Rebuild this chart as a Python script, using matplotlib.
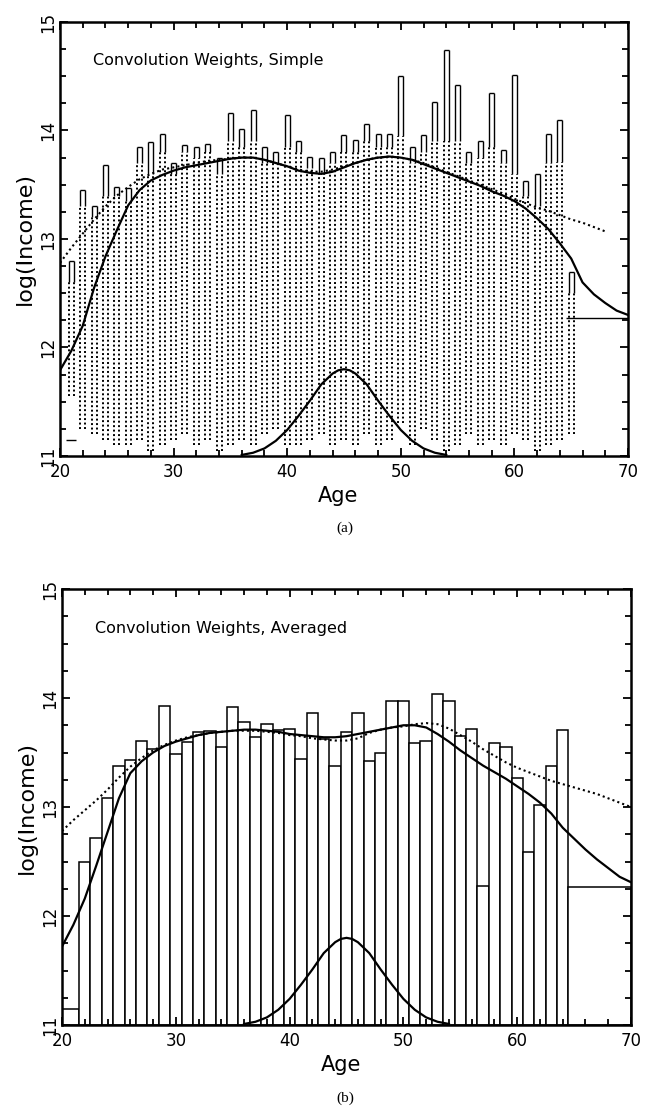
import numpy as np
import matplotlib
matplotlib.use("Agg")
import matplotlib.pyplot as plt
from matplotlib.ticker import MultipleLocator

plt.rcParams['font.family'] = ['DejaVu Sans']

# ---- data ----
# panel (a): raw observations per age (column top, second value, column bottom)
col_age = np.arange(21, 66)
col_top = [12.80, 13.45, 13.30, 13.68, 13.48, 13.47, 13.85, 13.89, 13.97, 13.70,
           13.87, 13.85, 13.88, 13.75, 14.16, 14.01, 14.19, 13.85, 13.80, 14.14,
           13.90, 13.76, 13.75, 13.80, 13.96, 13.91, 14.06, 13.97, 13.97, 14.50,
           13.85, 13.96, 14.26, 14.74, 14.42, 13.80, 13.90, 14.35, 13.82, 14.51,
           13.53, 13.60, 13.97, 14.10, 12.70]
col_second = [12.60, 13.30, 13.20, 13.40, 13.40, 13.35, 13.70, 13.60, 13.80, 13.60,
              13.80, 13.75, 13.80, 13.60, 13.90, 13.85, 13.90, 13.70, 13.70, 13.85,
              13.80, 13.65, 13.60, 13.70, 13.80, 13.80, 13.90, 13.85, 13.85, 13.95,
              13.70, 13.80, 13.90, 13.90, 13.90, 13.70, 13.75, 13.85, 13.70, 13.60,
              13.40, 13.30, 13.70, 13.71, 12.50]
col_bottom = [11.55, 11.25, 11.20, 11.15, 11.10, 11.10, 11.15, 11.05, 11.10, 11.15,
              11.20, 11.10, 11.15, 11.05, 11.10, 11.15, 11.10, 11.20, 11.25, 11.10,
              11.10, 11.15, 11.20, 11.10, 11.15, 11.10, 11.20, 11.10, 11.15, 11.30,
              11.10, 11.25, 11.15, 11.05, 11.10, 11.20, 11.10, 11.15, 11.10, 11.20,
              11.15, 11.05, 11.10, 11.15, 11.20]

# panel (b): averaged log income per age (step bars)
step_age = np.arange(21, 66)
step_val = [11.15, 12.50, 12.72, 13.08, 13.38, 13.43, 13.61, 13.53, 13.93, 13.49,
            13.60, 13.69, 13.70, 13.55, 13.92, 13.78, 13.64, 13.76, 13.71, 13.72,
            13.44, 13.86, 13.62, 13.38, 13.69, 13.86, 13.42, 13.50, 13.97, 13.97,
            13.59, 13.61, 14.04, 13.97, 13.65, 13.72, 12.28, 13.59, 13.55, 13.27,
            12.59, 13.02, 13.38, 13.71, 12.27]

# smooth curves (solid and dotted), sampled each year 20..70
curve_age = np.arange(20, 71)
solid_a = [11.79, 11.97, 12.20, 12.55, 12.84, 13.08, 13.31, 13.45, 13.54, 13.59,
           13.63, 13.66, 13.68, 13.70, 13.72, 13.74, 13.75, 13.75, 13.73, 13.70,
           13.67, 13.63, 13.61, 13.60, 13.62, 13.66, 13.70, 13.73, 13.75, 13.76,
           13.75, 13.73, 13.69, 13.65, 13.61, 13.57, 13.53, 13.49, 13.44, 13.40,
           13.35, 13.28, 13.19, 13.09, 12.96, 12.82, 12.60, 12.49, 12.41, 12.34,
           12.30]
dotted_a_age = np.arange(20, 69)
dotted_a = [12.78, 12.92, 13.05, 13.18, 13.30, 13.40, 13.48, 13.55, 13.60, 13.64,
            13.66, 13.68, 13.70, 13.72, 13.73, 13.74, 13.75, 13.75, 13.73, 13.70,
            13.67, 13.64, 13.62, 13.62, 13.64, 13.67, 13.70, 13.73, 13.75, 13.76,
            13.75, 13.73, 13.70, 13.66, 13.62, 13.58, 13.54, 13.50, 13.46, 13.42,
            13.37, 13.33, 13.29, 13.26, 13.22, 13.18, 13.15, 13.11, 13.07]
solid_b = [11.72, 11.92, 12.16, 12.46, 12.77, 13.08, 13.31, 13.42, 13.50, 13.56,
           13.60, 13.63, 13.66, 13.68, 13.69, 13.70, 13.71, 13.71, 13.70, 13.69,
           13.67, 13.66, 13.65, 13.64, 13.64, 13.65, 13.67, 13.69, 13.71, 13.73,
           13.75, 13.75, 13.73, 13.67, 13.60, 13.52, 13.45, 13.38, 13.32, 13.26,
           13.19, 13.12, 13.04, 12.94, 12.81, 12.71, 12.61, 12.52, 12.44, 12.36,
           12.31]
dotted_b = [12.78, 12.88, 12.97, 13.06, 13.16, 13.27, 13.37, 13.45, 13.52, 13.57,
            13.61, 13.64, 13.66, 13.68, 13.69, 13.70, 13.70, 13.70, 13.69, 13.68,
            13.66, 13.65, 13.63, 13.62, 13.61, 13.61, 13.63, 13.68, 13.71, 13.73,
            13.74, 13.76, 13.77, 13.76, 13.72, 13.66, 13.60, 13.53, 13.47, 13.41,
            13.36, 13.32, 13.28, 13.24, 13.21, 13.18, 13.15, 13.12, 13.08, 13.04,
            13.00]

# convolution weight (kernel) centred at age 45
kernel_age = [36, 37, 38, 39, 40, 41, 42, 43, 44, 44.5, 45, 45.5, 46, 47, 48, 49,
              50, 51, 52, 53, 54]
kernel_val = [11.01, 11.03, 11.07, 11.14, 11.24, 11.37, 11.51, 11.66, 11.76, 11.79,
              11.80, 11.79, 11.76, 11.66, 11.51, 11.37, 11.24, 11.14, 11.07, 11.03,
              11.01]

titles = ["Convolution Weights, Simple", "Convolution Weights, Averaged"]
captions = ["(a)", "(b)"]

fig = plt.figure(figsize=(6.46, 11.16), dpi=100)
ax_a = fig.add_axes([0.0929, 0.5914, 0.8792, 0.3889])
ax_b = fig.add_axes([0.096, 0.0815, 0.8808, 0.3907])


def style(ax, title):
    ax.set_xlim(20, 70)
    ax.set_ylim(11, 15)
    ax.xaxis.set_major_locator(MultipleLocator(10))
    ax.xaxis.set_minor_locator(MultipleLocator(2))
    ax.yaxis.set_major_locator(MultipleLocator(1))
    ax.yaxis.set_minor_locator(MultipleLocator(0.25))
    ax.tick_params(which='both', direction='in', top=True, right=True, width=1.3)
    ax.tick_params(which='major', length=6, labelsize=12)
    ax.tick_params(which='minor', length=4)
    ax.tick_params(axis='x', pad=5)
    ax.tick_params(axis='y', pad=2)
    for s in ax.spines.values():
        s.set_linewidth(1.8)
    plt.setp(ax.get_yticklabels(), rotation=90, va='center')
    ax.get_xticklabels()[0].set_ha('left')
    ax.set_xlabel("Age", fontsize=15)
    ax.xaxis.set_label_coords(0.49, -0.068)
    ax.set_ylabel("log(Income)", fontsize=16)
    ax.yaxis.set_label_coords(-0.045, 0.5)
    ax.text(22.9, 14.6, title, fontsize=11.5)


# ---- panel (a) ----
off = 0.22
for sgn in (-1, 1):
    ax_a.vlines(col_age + sgn * off, col_bottom, col_second, colors='black',
                linewidth=1.4, linestyles=(0, (1, 1.3)))
    ax_a.vlines(col_age + sgn * off, col_second, col_top, colors='black', linewidth=1.0)
ax_a.hlines(col_top, col_age - off, col_age + off, colors='black', linewidth=1.0)
ax_a.hlines(step_val[-1], step_age[-1] - 0.5, 70, colors='black', linewidth=1.0)
ax_a.hlines(step_val[0], step_age[0] - 0.5, step_age[0] + 0.4, colors='black', linewidth=1.0)
ax_a.plot(curve_age, solid_a, color='black', linewidth=1.6)
ax_a.plot(dotted_a_age, dotted_a, color='black', linewidth=1.5, linestyle=(0, (1, 1.5)))
ax_a.plot(kernel_age, kernel_val, color='black', linewidth=1.6)
style(ax_a, titles[0])

# ---- panel (b) ----
left = step_age - 0.5
left[0] = 20
right = step_age + 0.5
right[-1] = 70
ax_b.bar(left, np.array(step_val) - 11, width=right - left, bottom=11, align='edge',
         facecolor='white', edgecolor='black', linewidth=1.1)
ax_b.plot(curve_age, solid_b, color='black', linewidth=1.6)
ax_b.plot(curve_age, dotted_b, color='black', linewidth=1.5, linestyle=(0, (1, 1.5)))
ax_b.plot(kernel_age, kernel_val, color='black', linewidth=1.6)
style(ax_b, titles[1])

fig.text(345 / 646, 1 - 528 / 1116, captions[0], ha='center', va='center',
         family='Liberation Serif', fontsize=11)
fig.text(345 / 646, 1 - 1098 / 1116, captions[1], ha='center', va='center',
         family='Liberation Serif', fontsize=11)

fig.savefig("out.png", dpi=100)
